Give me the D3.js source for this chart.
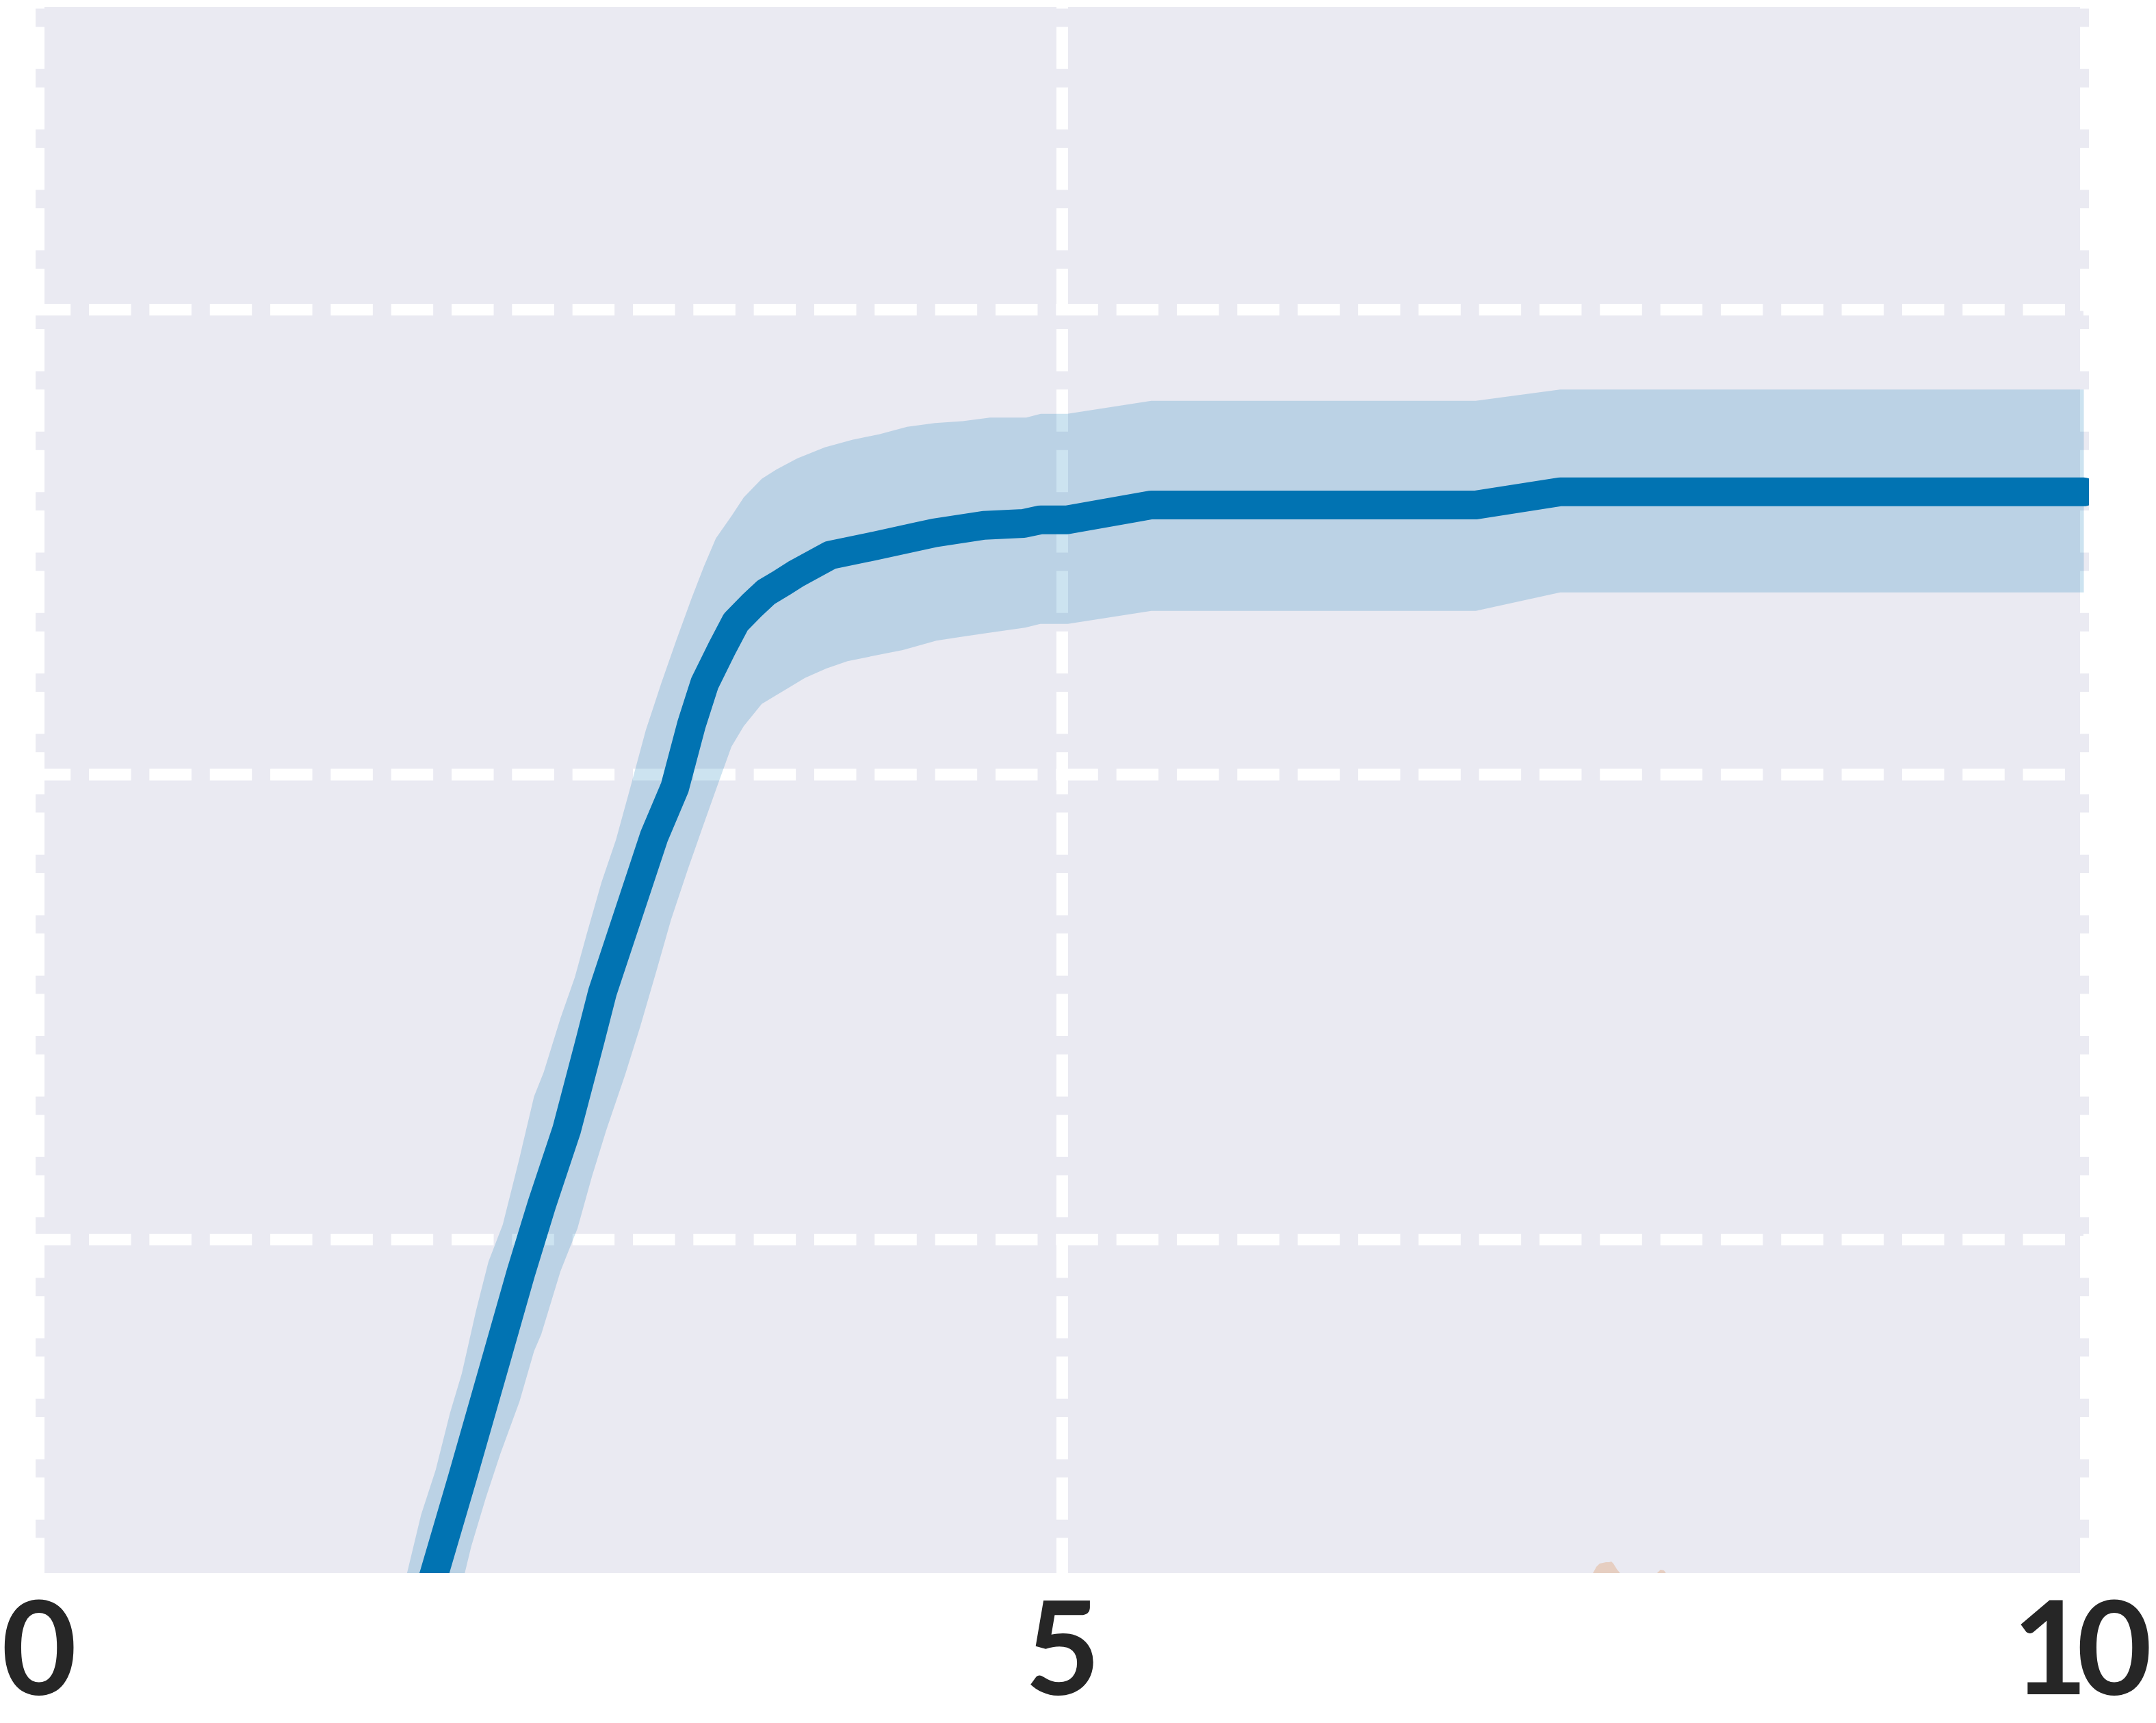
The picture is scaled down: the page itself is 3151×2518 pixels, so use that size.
<!DOCTYPE html>
<html><head><meta charset="utf-8">
<script src="https://cdn.jsdelivr.net/npm/d3@7"></script>
<style>html,body{margin:0;padding:0;background:#fff;} svg{display:block;}</style>
</head><body>
<svg id="chart" width="3151" height="2518"></svg>
<script>
// ---- data ----
const xTickValues = [0, 5, 10];
const xTickLabels = ["0", "5", "10"];
const yGridValues = [0.25, 0.5, 0.75];

// blue series: mean curve
const meanX = [0, 1.739, 1.934, 2.070, 2.231, 2.355, 2.458, 2.579, 2.696, 2.754, 3.007, 3.107, 3.189, 3.253, 3.338, 3.405, 3.485, 3.553, 3.629, 3.700, 3.867, 4.085, 4.376, 4.617, 4.811, 4.895, 5.025, 5.435, 7.020, 7.432, 9.99];
const meanY = [-0.02, -0.003, 0.071, 0.122, 0.184, 0.232, 0.269, 0.309, 0.358, 0.383, 0.467, 0.493, 0.527, 0.549, 0.568, 0.582, 0.591, 0.598, 0.603, 0.608, 0.618, 0.623, 0.630, 0.634, 0.635, 0.637, 0.637, 0.645, 0.645, 0.652, 0.652];

// blue series: upper bound of band
const upperX = [0, 1.635, 1.798, 1.868, 1.939, 2.010, 2.067, 2.137, 2.197, 2.267, 2.349, 2.420, 2.467, 2.549, 2.619, 2.679, 2.749, 2.820, 2.890, 2.966, 3.041, 3.114, 3.190, 3.250, 3.308, 3.384, 3.444, 3.532, 3.603, 3.705, 3.840, 3.974, 4.108, 4.242, 4.378, 4.513, 4.647, 4.824, 4.895, 5.025, 5.435, 7.020, 7.432, 9.99];
const upperY = [-0.01, -0.003, 0.070, 0.102, 0.126, 0.157, 0.178, 0.212, 0.238, 0.258, 0.294, 0.327, 0.340, 0.369, 0.391, 0.415, 0.442, 0.465, 0.493, 0.524, 0.549, 0.572, 0.595, 0.612, 0.627, 0.639, 0.649, 0.659, 0.664, 0.670, 0.676, 0.680, 0.683, 0.687, 0.689, 0.690, 0.692, 0.692, 0.694, 0.694, 0.701, 0.701, 0.707, 0.707];

// blue series: lower bound of band
const lowerX = [0, 1.916, 2.080, 2.113, 2.184, 2.256, 2.349, 2.420, 2.455, 2.549, 2.632, 2.703, 2.773, 2.866, 2.937, 3.019, 3.089, 3.171, 3.241, 3.312, 3.384, 3.444, 3.532, 3.653, 3.743, 3.847, 3.951, 4.085, 4.221, 4.385, 4.505, 4.624, 4.818, 4.893, 5.027, 5.435, 7.020, 7.432, 9.99];
const lowerY = [-0.03, -0.003, 0.070, 0.085, 0.111, 0.135, 0.163, 0.190, 0.199, 0.233, 0.256, 0.284, 0.309, 0.339, 0.364, 0.395, 0.422, 0.449, 0.471, 0.493, 0.515, 0.526, 0.538, 0.546, 0.552, 0.557, 0.561, 0.564, 0.567, 0.572, 0.574, 0.576, 0.579, 0.581, 0.581, 0.588, 0.588, 0.598, 0.598];

// second (vermilion) series: only the top of its band peeks into view
const band2UpperX = [7.560, 7.592, 7.609, 7.625, 7.656, 7.672, 7.682, 7.692, 7.709, 7.725, 7.745, 7.870, 7.905, 7.922, 7.939, 7.949, 7.970];
const band2UpperY = [0.060, 0.0706, 0.0740, 0.0758, 0.0765, 0.0765, 0.0769, 0.0758, 0.0728, 0.0706, 0.066, 0.064, 0.0706, 0.0725, 0.0721, 0.0706, 0.066];
const band2LowerX = [7.560, 7.970];
const band2LowerY = [0.0, 0.0];

// ---- drawing ----
const svg = d3.select("#chart");
const plot = {left: 52, right: 3053, top: 10, bottom: 2299};
const x = d3.scaleLinear().domain([0, 10]).range([56.5, 3048.5]);
const y = d3.scaleLinear().domain([0.25, 0.75]).range([1811.5, 452.5]);

svg.append("defs").append("clipPath").attr("id", "plotClip")
  .append("rect")
  .attr("x", plot.left).attr("y", plot.top)
  .attr("width", plot.right - plot.left).attr("height", plot.bottom - plot.top);

svg.append("rect")
  .attr("x", plot.left).attr("y", plot.top)
  .attr("width", plot.right - plot.left).attr("height", plot.bottom - plot.top)
  .attr("fill", "#EAEAF2");

const g = svg.append("g").attr("clip-path", "url(#plotClip)");

// grid
const grid = g.append("g");
grid.selectAll("line.h").data(yGridValues).join("line")
  .attr("class", "h")
  .attr("x1", plot.left).attr("x2", plot.right)
  .attr("y1", d => y(d)).attr("y2", d => y(d))
  .attr("stroke", "#ffffff").attr("stroke-width", 17)
  .attr("stroke-dasharray", "61.5 26.83").attr("stroke-dashoffset", 10.3);
grid.selectAll("line.v").data(xTickValues).join("line")
  .attr("class", "v")
  .attr("x1", d => x(d)).attr("x2", d => x(d))
  .attr("y1", plot.top).attr("y2", plot.bottom)
  .attr("stroke", "#ffffff").attr("stroke-width", 17)
  .attr("stroke-dasharray", "61.5 26.83").attr("stroke-dashoffset", 59);

// bands
const poly = d3.line().x(d => x(d[0])).y(d => y(d[1]));
function bandPoints(ux, uy, lx, ly) {
  const up = ux.map((v, i) => [v, uy[i]]);
  const lo = lx.map((v, i) => [v, ly[i]]).reverse();
  return up.concat(lo);
}
g.append("path")
  .attr("d", poly(bandPoints(band2UpperX, band2UpperY, band2LowerX, band2LowerY)) + "Z")
  .attr("fill", "#D55E00").attr("fill-opacity", 0.2);
g.append("path")
  .attr("d", poly(bandPoints(upperX, upperY, lowerX, lowerY)) + "Z")
  .attr("fill", "#0173B2").attr("fill-opacity", 0.2);

// mean line
g.append("path")
  .attr("d", poly(meanX.map((v, i) => [v, meanY[i]])))
  .attr("fill", "none").attr("stroke", "#0173B2").attr("stroke-width", 42)
  .attr("stroke-linejoin", "round").attr("stroke-linecap", "round");

// x axis labels
const axis = d3.axisBottom(x).tickValues(xTickValues)
  .tickFormat((d, i) => xTickLabels[i]).tickSize(0).tickPadding(0);
const ax = svg.append("g").attr("transform", `translate(0,${plot.bottom})`).call(axis);
ax.select(".domain").remove();
ax.selectAll("text")
  .attr("y", 177).attr("dy", null)
  .attr("fill", "#262626")
  .attr("text-anchor", "start")
  .style("font-family", "Lato, 'DejaVu Sans', sans-serif")
  .style("font-weight", 700)
  .style("font-size", "190px")
  .each(function (d, i) {
    const ls = xTickLabels[i].length > 1 ? -16 : 0;
    const sel = d3.select(this).style("letter-spacing", ls + "px");
    // centre the glyph run on its tick
    const bb = this.getBBox();
    sel.attr("x", -bb.width / 2 + ls / 2);
  });
</script>
</body></html>
